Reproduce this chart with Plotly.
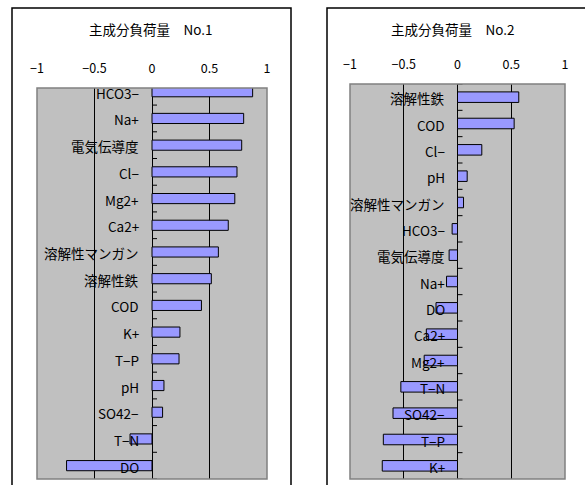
import plotly.graph_objects as go

W, H = 585, 485

cats1 = ["HCO3−", "Na+", "電気伝導度", "Cl−", "Mg2+", "Ca2+", "溶解性マンガン", "溶解性鉄",
         "COD", "K+", "T−P", "pH", "SO42−", "T−N", "DO"]
vals1 = [0.875, 0.797, 0.78, 0.739, 0.72, 0.663, 0.577, 0.516,
         0.43, 0.243, 0.235, 0.104, 0.092, -0.191, -0.743]

cats2 = ["溶解性鉄", "COD", "Cl−", "pH", "溶解性マンガン", "HCO3−", "電気伝導度", "Na+",
         "DO", "Ca2+", "Mg2+", "T−N", "SO42−", "T−P", "K+"]
vals2 = [0.57, 0.527, 0.226, 0.09, 0.056, -0.05, -0.078, -0.102,
         -0.2, -0.29, -0.31, -0.527, -0.6, -0.69, -0.70]

titles = ["主成分負荷量　No.1", "主成分負荷量　No.2"]
xticks = [-1, -0.5, 0, 0.5, 1]
xticktext = ["−1", "−0.5", "0", "0.5", "1"]

FONT = "Noto Sans CJK JP"

def px_x(p):
    return p / W

def px_y(p):
    return 1 - p / H

# plot areas (pixel bounds)
p1 = dict(l=37, r=267, t=88, b=479)
p2 = dict(l=350, r=565, t=84, b=479)

fig = go.Figure()

idx1 = list(range(len(cats1)))
idx2 = list(range(len(cats2)))

fig.add_trace(go.Bar(x=vals1, y=idx1, orientation="h", width=0.38,
                     marker=dict(color="#9999FF", line=dict(color="#000000", width=1)),
                     xaxis="x", yaxis="y", showlegend=False, hoverinfo="skip"))
fig.add_trace(go.Bar(x=vals2, y=idx2, orientation="h", width=0.4,
                     marker=dict(color="#9999FF", line=dict(color="#000000", width=1)),
                     xaxis="x2", yaxis="y2", showlegend=False, hoverinfo="skip"))

# category-boundary tick marks on the zero axis (5 px long, pointing right)
def boundary_ticks(n, p, xr, yr):
    unit_px = (p["r"] - p["l"]) / 2.0
    L = 5.0 / unit_px
    xs, ys = [], []
    for i in range(-1, n):
        b = i + 0.5
        xs += [0, L, None]
        ys += [b, b, None]
    return go.Scatter(x=xs, y=ys, mode="lines", line=dict(color="#000000", width=1),
                      xaxis=xr, yaxis=yr, showlegend=False, hoverinfo="skip")

fig.add_trace(boundary_ticks(len(cats1), p1, "x", "y"))
fig.add_trace(boundary_ticks(len(cats2), p2, "x2", "y2"))

def xaxis_cfg(p, yname):
    return dict(domain=[px_x(p["l"]), px_x(p["r"])], range=[-1, 1], anchor=yname,
                side="top", tickvals=xticks, ticktext=xticktext,
                showgrid=True, gridcolor="#000000", gridwidth=1,
                zeroline=True, zerolinecolor="#000000", zerolinewidth=1,
                ticks="", ticklabelstandoff=12, automargin=False,
                tickfont=dict(family=FONT, size=12.5, color="#000000"),
                showline=False, fixedrange=True)

def yaxis_cfg(p, cats, top_val):
    n = len(cats)
    return dict(domain=[px_y(p["b"]), px_y(p["t"])], type="linear",
                range=[n - 0.5, top_val], anchor=None,
                showticklabels=False, ticks="", automargin=False,
                showgrid=False, showline=False, zeroline=False, fixedrange=True)

y1cfg = yaxis_cfg(p1, cats1, -0.14)
y1cfg["anchor"] = "x"
y2cfg = yaxis_cfg(p2, cats2, -0.5)
y2cfg["anchor"] = "x2"

fig.update_layout(
    width=W, height=H,
    margin=dict(l=0, r=0, t=0, b=0, autoexpand=False),
    paper_bgcolor="#FFFFFF",
    plot_bgcolor="#C0C0C0",
    xaxis=xaxis_cfg(p1, "y"),
    yaxis=y1cfg,
    xaxis2=xaxis_cfg(p2, "y2"),
    yaxis2=y2cfg,
    font=dict(family=FONT, color="#000000"),
)

shapes = []
# outer chart frames
shapes.append(dict(type="rect", xref="paper", yref="paper",
                   x0=px_x(12), x1=px_x(291), y0=-0.05, y1=px_y(8),
                   line=dict(color="#000000", width=1.5), layer="below"))
shapes.append(dict(type="rect", xref="paper", yref="paper",
                   x0=px_x(327), x1=1.05, y0=-0.05, y1=px_y(8),
                   line=dict(color="#000000", width=1.5), layer="below"))
# plot area borders
for xr, yr in (("x", "y"), ("x2", "y2")):
    shapes.append(dict(type="rect", xref=f"{xr} domain", yref=f"{yr} domain",
                       x0=0, x1=1, y0=0, y1=1,
                       line=dict(color="#808080", width=1.5), layer="above"))
fig.update_layout(shapes=shapes)

annotations = []
for t, cx in zip(titles, (151, 453)):
    annotations.append(dict(text=t, xref="paper", yref="paper",
                            x=px_x(cx), y=px_y(29), xanchor="center", yanchor="middle",
                            showarrow=False, font=dict(family=FONT, size=13.5, color="#000000")))
# category labels next to the zero axis
for cats, xr, yr in ((cats1, "x", "y"), (cats2, "x2", "y2")):
    for i, c in enumerate(cats):
        annotations.append(dict(text=c, xref=xr, yref=yr, x=0, y=i,
                                xanchor="right", yanchor="middle", xshift=-11, yshift=-1,
                                showarrow=False,
                                font=dict(family=FONT, size=13.5, color="#000000")))
fig.update_layout(annotations=annotations)

fig.write_html("out.html")
